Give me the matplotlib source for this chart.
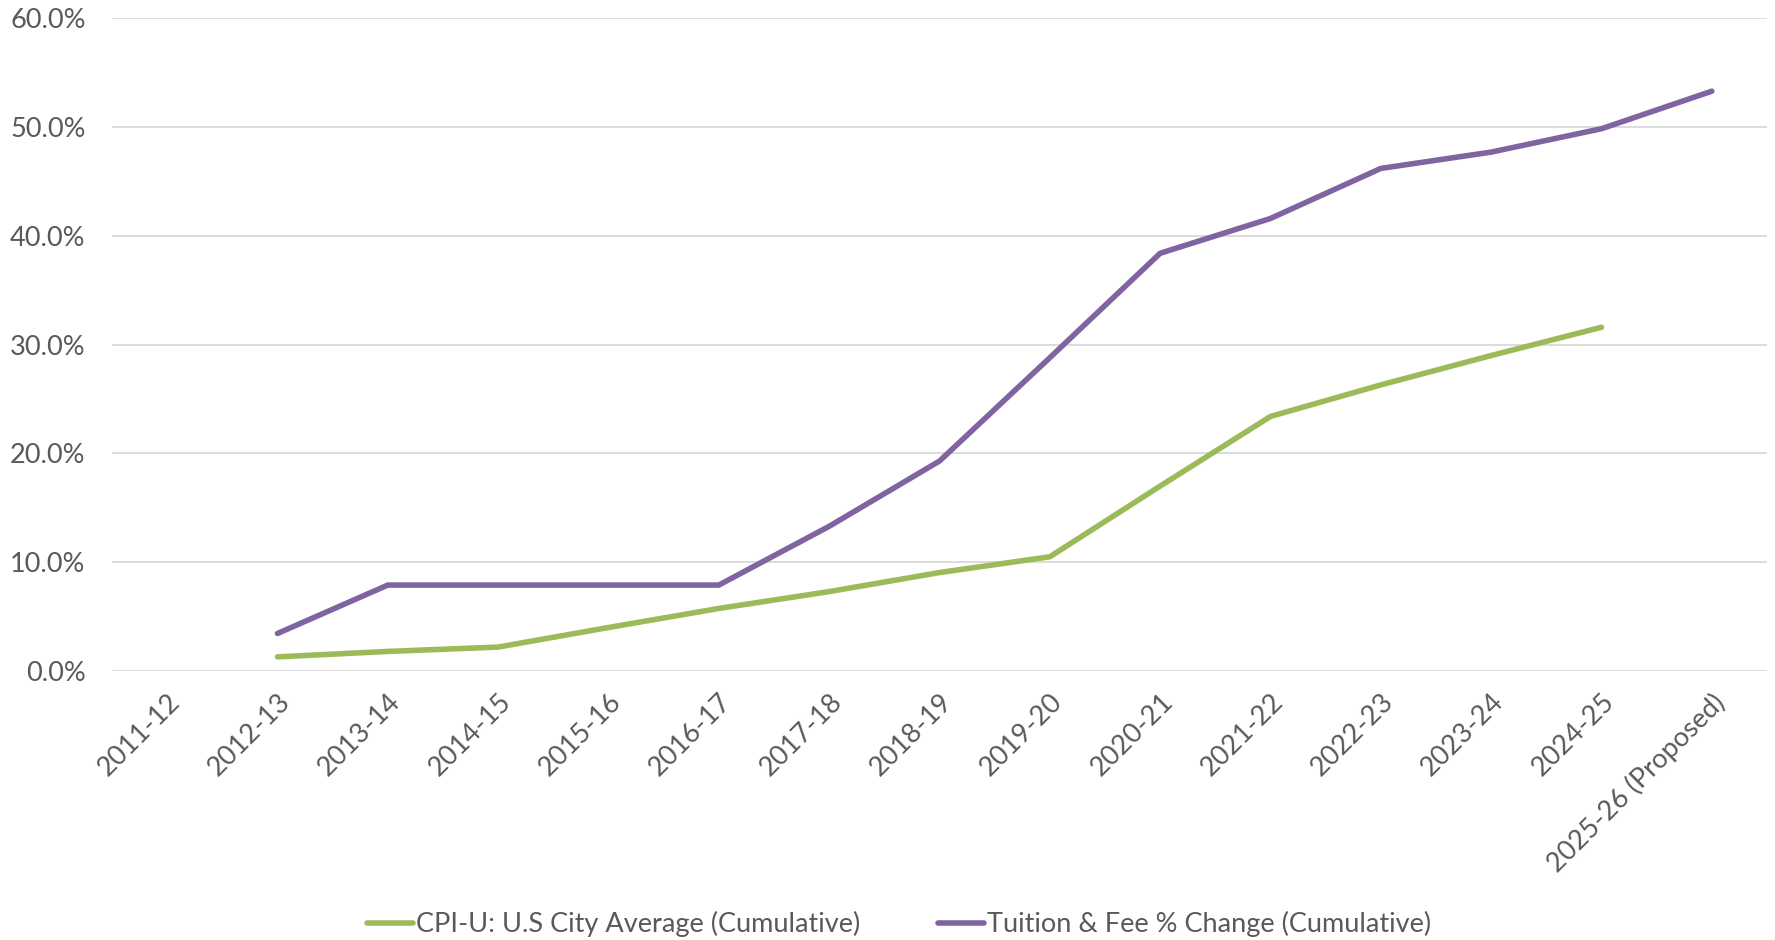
import matplotlib
matplotlib.use("Agg")
import matplotlib.pyplot as plt
import numpy as np
from matplotlib.ticker import FuncFormatter

categories = ["2011-12", "2012-13", "2013-14", "2014-15", "2015-16", "2016-17",
              "2017-18", "2018-19", "2019-20", "2020-21", "2021-22", "2022-23",
              "2023-24", "2024-25", "2025-26 (Proposed)"]
cpi = [np.nan, 1.3, 1.8, 2.2, 4.0, 5.75, 7.3, 9.05, 10.5, 17.0, 23.4, 26.3, 29.0, 31.6, np.nan]
tuition = [np.nan, 3.45, 7.9, 7.9, 7.9, 7.9, 13.3, 19.3, 28.8, 38.4, 41.6, 46.2, 47.7, 49.85, 53.3]
series_names = ["CPI-U: U.S City Average (Cumulative)", "Tuition & Fee % Change (Cumulative)"]
yticks = [0, 10, 20, 30, 40, 50, 60]

plt.rcParams['font.family'] = ['Lato', 'DejaVu Sans']
text_color = "#595959"

fig = plt.figure(figsize=(17.75, 9.4), dpi=100)
ax = fig.add_axes([112/1775, 1 - 671/940, (1767-112)/1775, (671-18.3)/940])

x = np.arange(len(categories))
ax.plot(x, cpi, color="#9BBB59", lw=4.0, solid_capstyle='round', solid_joinstyle='round', label=series_names[0])
ax.plot(x, tuition, color="#8064A2", lw=4.0, solid_capstyle='round', solid_joinstyle='round', label=series_names[1])

ax.set_xlim(-0.5, len(categories) - 0.5)
ax.set_ylim(0, 60)
ax.set_yticks(yticks)
ax.yaxis.set_major_formatter(FuncFormatter(lambda v, p: f"{v:.1f}%"))
ax.set_xticks(x)
ax.set_xticklabels(categories, rotation=45, ha='right', va='top', rotation_mode='anchor')
ax.tick_params(axis='both', length=0, labelsize=19.5, colors=text_color)
ax.tick_params(axis='x', pad=13)
ax.tick_params(axis='y', pad=19)
for s in ax.spines.values():
    s.set_visible(False)
ax.grid(axis='y', color="#D9D9D9", lw=1.3)
ax.set_axisbelow(True)

leg = fig.legend(loc='center', bbox_to_anchor=(899/1775, 1 - 924/940), ncol=2, frameon=False,
                 fontsize=19.5, handlelength=1.7, handletextpad=0.1, columnspacing=2.9)
for t in leg.get_texts():
    t.set_color(text_color)

fig.savefig("out.png", dpi=100)
